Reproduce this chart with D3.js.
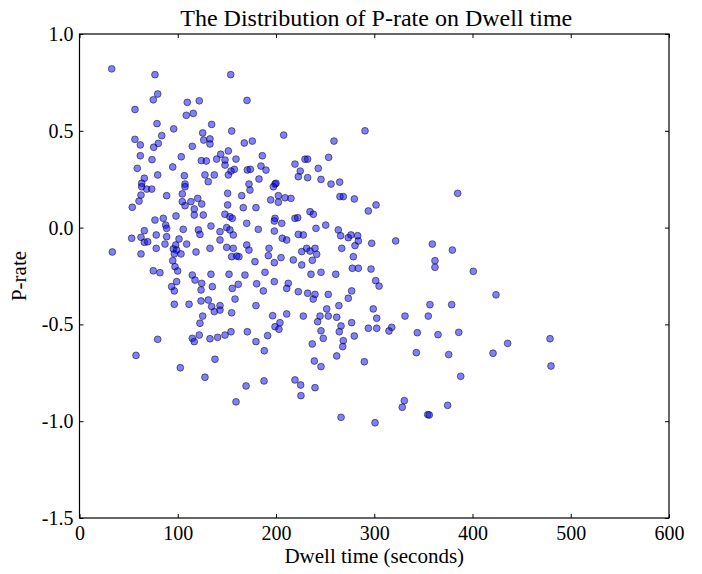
<!DOCTYPE html>
<html><head><meta charset="utf-8">
<script src="https://cdn.jsdelivr.net/npm/d3@7"></script>
<style>body{margin:0;background:#fff}svg{display:block}</style>
</head><body>
<svg id="c" width="702" height="574"></svg>
<script>
const dwell = [32.8,76.8,79.6,75.1,109.7,121.9,56.5,108.7,115.8,78.9,95.9,125.4,126.4,56.4,61.9,83.7,80.2,75.5,114.8,61.9,73.8,103.6,124,58.8,94.9,79.6,106.7,66,63.3,107.4,127.7,
153.9,170.5,134.5,154.9,132.8,132.8,167.7,175.9,207.8,151.5,159.3,143.7,139.6,148.1,148.1,129.1,186.1,184.7,189.8,219.3,224.7,222.7,229.5,157.6,154.2,151.5,170.8,173.9,137.2,182.7,172.5,199,200,131,
290.6,259,232.2,253.6,243,232.2,245.8,256,264.8,
63.3,68.4,73.5,62.6,60.6,53.7,88.7,104.6,107.4,104.6,107.4,113.4,120.3,124.4,116.8,116.8,126,76.8,85.3,98.2,87.7,88.7,105.6,121,122.6,66,78.1,62.6,53.1,66,69.4,88.7,78.1,87,101.3,97.9,95.5,98.9,96.5,103.3,109.1,118.6,33.4,62.6,94.9,97.2,99.9,75.1,81.9,114.8,117.6,124.4,98.9,93.8,96.5,123.7,96.5,111.5,123.7,
150.8,165.1,173.5,197.3,194.6,202.4,209.2,215.2,202.4,150.8,166.7,179.6,133.8,148,153.1,155.5,143,149.8,153.1,156.5,170.2,182,199,198.3,205.8,219.3,222.1,198.3,206.4,210.9,222.7,227.8,132.8,143,149.8,156.5,154.9,160,162.3,170.2,172.5,192.9,192.2,198.3,205.1,178.6,217.6,226.2,226.2,133.8,152.2,168.4,161.6,155.5,188.8,198.3,180.3,187.1,212.5,210.9,222.7,135.2,131.1,134.5,143,158.3,179.6,
265.1,268.5,279.7,294,301.8,234.6,238,250.6,240.7,263.4,265.8,273.6,276.3,283.1,283.8,280.4,297.4,321.8,266.9,231.2,234.6,239.7,241.4,237,278.7,277.7,283.8,296.7,235.6,245.8,260.8,301.5,304.9,277,273.6,232.2,239.7,237.9,253.2,251.6,264,299,
125.4,122.6,121.9,114.8,116.8,79.6,57.5,102.6,127.7,
137.2,143,154.9,132.8,140.6,148.1,154.2,170.8,179.6,188.1,191.5,196.6,210.9,227.8,204,199,203,137.9,169.5,159.3,187.8,219.3,225.1,225.4,
244.8,242.4,253.2,261.8,302.5,277,266.2,264.4,294,302.5,317.8,315,245.8,279.7,248.1,268.5,267.9,236.9,261.8,289.9,239,245.8,239.7,330.6,328.5,266.2,300.8,
384.9,359.1,379.5,361.8,361.8,400.8,423.9,356.7,378.8,331.3,355,343.8,364.9,386,435.8,478.9,342.8,375.8,420.9,479.9,388,374.7,354.4,356];
const prate = [0.82,0.79,0.69,0.66,0.647,0.655,0.61,0.58,0.59,0.537,0.51,0.489,0.452,0.456,0.427,0.475,0.435,0.415,0.42,0.371,0.351,0.366,0.346,0.306,0.313,0.272,0.268,0.255,0.229,0.225,0.272,
0.79,0.657,0.533,0.499,0.458,0.432,0.437,0.447,0.478,0.396,0.354,0.379,0.354,0.349,0.323,0.344,0.371,0.318,0.297,0.328,0.292,0.263,0.353,0.301,0.292,0.272,0.298,0.301,0.272,0.251,0.225,0.225,0.229,0.237,
0.50,0.447,0.354,0.363,0.306,0.258,0.249,0.225,0.235,
0.211,0.199,0.199,0.168,0.137,0.105,0.165,0.174,0.211,0.134,0.113,0.134,0.151,0.122,0.096,0.065,0.065,0.039,0.048,0.06,0.013,-0.004,-0.009,-0.012,-0.035,-0.016,-0.038,-0.05,-0.055,-0.076,-0.073,-0.047,-0.107,-0.085,-0.059,-0.09,-0.11,-0.116,-0.136,-0.136,-0.085,-0.126,-0.126,-0.136,-0.171,-0.202,-0.224,-0.223,-0.233,-0.245,-0.271,-0.288,-0.279,-0.305,-0.327,-0.322,-0.396,-0.396,-0.379,
0.177,0.165,0.194,0.211,0.143,0.165,0.154,0.151,0.131,0.117,0.103,0.103,0.008,0.069,0.056,0.048,-0.021,0,-0.012,-0.038,0.022,-0.009,0.048,0.034,0.022,0.048,0.051,-0.018,-0.055,-0.064,-0.035,-0.038,-0.107,-0.064,-0.102,-0.107,-0.15,-0.147,-0.15,-0.09,-0.116,-0.107,-0.145,-0.181,-0.155,-0.176,-0.167,-0.124,-0.193,-0.241,-0.241,-0.245,-0.293,-0.314,-0.231,-0.279,-0.29,-0.327,-0.288,-0.314,-0.331,-0.305,-0.374,-0.408,-0.403,-0.369,-0.403,
0.16,0.16,0.148,0.086,0.117,0.082,0.069,0.013,-0.004,-0.012,-0.042,-0.052,-0.038,-0.042,-0.069,-0.093,-0.081,-0.069,-0.107,-0.107,-0.121,-0.107,-0.138,-0.169,-0.15,-0.21,-0.21,-0.214,-0.241,-0.231,-0.241,-0.274,-0.302,-0.327,-0.365,-0.339,-0.345,-0.369,-0.345,-0.42,-0.403,-0.42,
-0.457,-0.494,-0.555,-0.572,-0.589,-0.577,-0.66,-0.724,-0.773,
-0.434,-0.426,-0.44,-0.574,-0.567,-0.555,-0.538,-0.538,-0.589,-0.636,-0.558,-0.455,-0.446,-0.457,-0.491,-0.512,-0.525,-0.68,-0.818,-0.9,-0.792,-0.787,-0.813,-0.868,
-0.457,-0.486,-0.457,-0.463,-0.468,-0.491,-0.508,-0.538,-0.52,-0.52,-0.515,-0.534,-0.533,-0.56,-0.572,-0.584,-0.615,-0.601,-0.663,-0.693,-0.689,-0.718,-0.827,-0.894,-0.928,-0.98,-1.008,
0.177,-0.085,-0.116,-0.171,-0.205,-0.226,-0.347,-0.398,-0.398,-0.457,-0.457,-0.543,-0.553,-0.541,-0.598,-0.574,-0.646,-0.656,-0.649,-0.715,-0.768,-0.918,-0.966,-0.968];
const xTicks = [0,100,200,300,400,500,600];
const yTicks = [1.0,0.5,0.0,-0.5,-1.0,-1.5];
const title = "The Distribution of P-rate on Dwell time";
const xLabel = "Dwell time (seconds)";
const yLabel = "P-rate";

const L=79.5, R=669, T=34, B=518;
const svg = d3.select("#c");
const x = d3.scaleLinear().domain([0,600]).range([L,R]);
const y = d3.scaleLinear().domain([-1.5,1.0]).range([B,T]);
const font = "Liberation Serif, Times New Roman, serif";

const pts = dwell.map((d,i)=>({x:d,y:prate[i]}));
svg.append("g").selectAll("circle").data(pts).join("circle")
  .attr("cx",d=>x(d.x)).attr("cy",d=>y(d.y)).attr("r",3.4)
  .attr("fill","blue").attr("fill-opacity",0.5)
  .attr("stroke","black").attr("stroke-opacity",0.5).attr("stroke-width",1);

const fmtY = d=>d.toFixed(1);
const tl = 4;
const gx = svg.append("g").attr("transform",`translate(0,${B})`)
  .call(d3.axisBottom(x).tickValues(xTicks).tickSizeInner(-tl).tickSizeOuter(0).tickPadding(8));
const gxt = svg.append("g").attr("transform",`translate(0,${T})`)
  .call(d3.axisTop(x).tickValues(xTicks).tickSizeInner(-tl).tickSizeOuter(0).tickFormat(""));
const gy = svg.append("g").attr("transform",`translate(${L},0)`)
  .call(d3.axisLeft(y).tickValues(yTicks).tickSizeInner(-tl).tickSizeOuter(0).tickPadding(6).tickFormat(fmtY));
const gyr = svg.append("g").attr("transform",`translate(${R},0)`)
  .call(d3.axisRight(y).tickValues(yTicks).tickSizeInner(-tl).tickSizeOuter(0).tickFormat(""));
[gx,gxt,gy,gyr].forEach(g=>{g.select(".domain").remove(); g.selectAll("line").attr("stroke","#000");
  g.selectAll("text").attr("font-family",font).attr("font-size",20).attr("fill","#000");});

svg.append("rect").attr("x",L).attr("y",T).attr("width",R-L).attr("height",B-T)
  .attr("fill","none").attr("stroke","#000").attr("stroke-width",1.2);

svg.append("text").attr("x",(L+R)/2+2).attr("y",26).attr("text-anchor","middle")
  .attr("font-family",font).attr("font-size",24).text(title);
svg.append("text").attr("x",(L+R)/2).attr("y",563).attr("text-anchor","middle")
  .attr("font-family",font).attr("font-size",21).text(xLabel);
svg.append("text").attr("transform",`translate(26,${(T+B)/2}) rotate(-90)`).attr("text-anchor","middle")
  .attr("font-family",font).attr("font-size",21).text(yLabel);
</script>
</body></html>
